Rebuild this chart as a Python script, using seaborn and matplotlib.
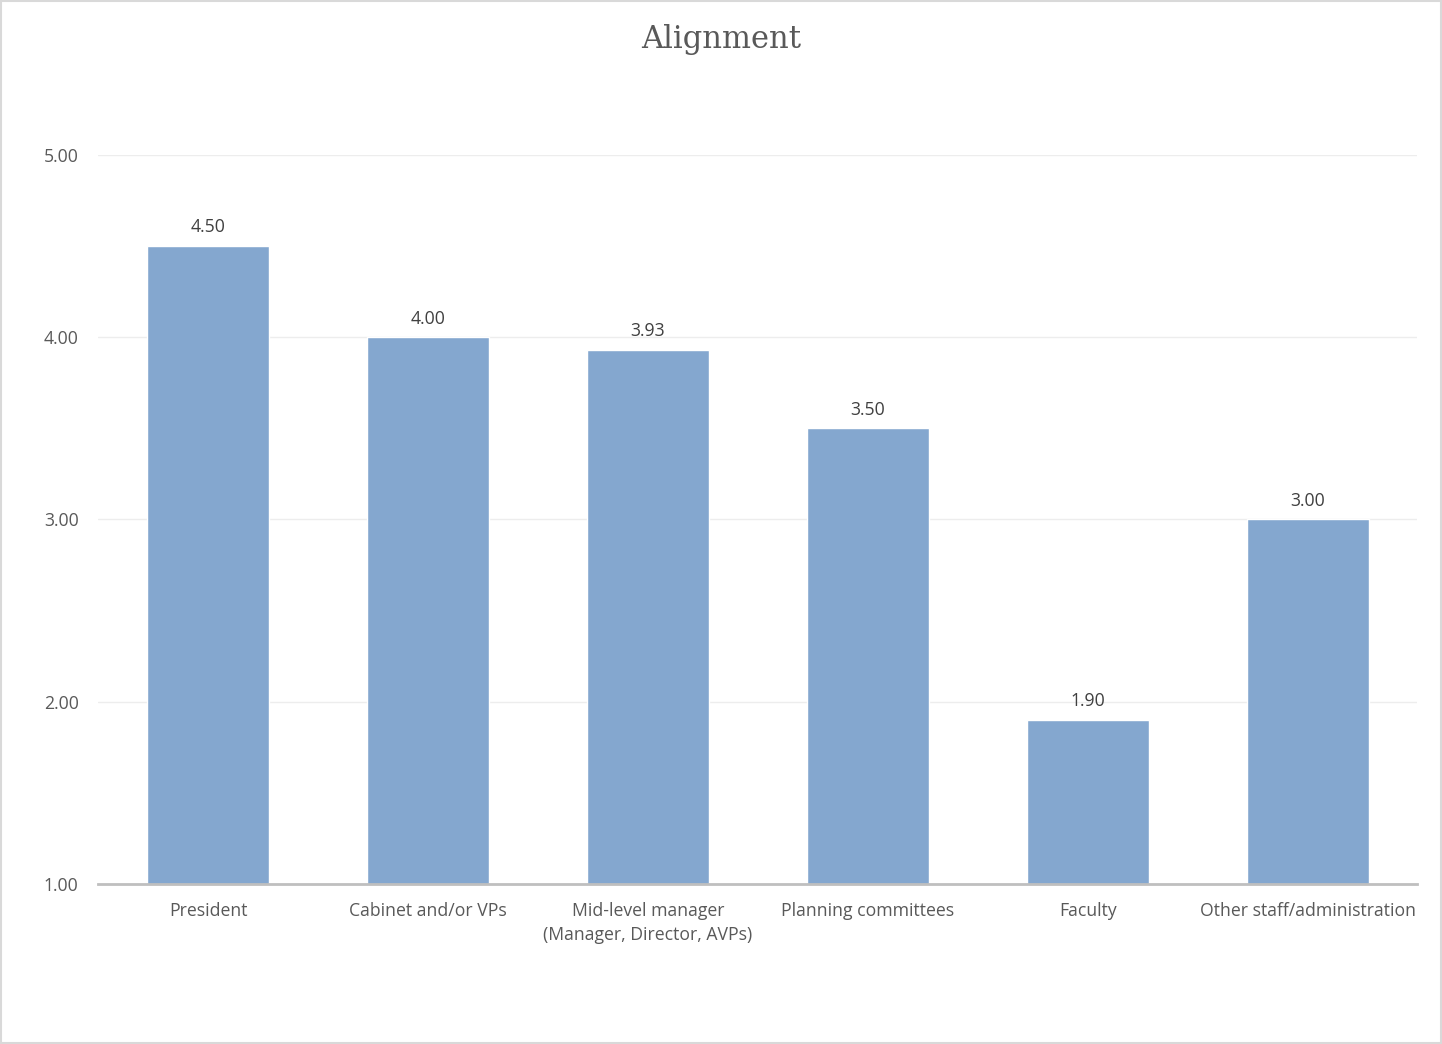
import matplotlib
matplotlib.use("Agg")
import matplotlib.pyplot as plt
import seaborn as sns
import pandas as pd
from matplotlib.patches import Rectangle

categories = ["President", "Cabinet and/or VPs", "Mid-level manager\n(Manager, Director, AVPs)",
              "Planning committees", "Faculty", "Other staff/administration"]
values = [4.50, 4.00, 3.93, 3.50, 1.90, 3.00]
yticks = [1.0, 2.0, 3.0, 4.0, 5.0]

sns.set_theme(style="white")
plt.rcParams['font.family'] = ['Open Sans', 'DejaVu Sans']

df = pd.DataFrame({"cat": categories, "val": values})
fig = plt.figure(figsize=(14.42, 10.44), dpi=100)
ax = fig.add_axes([0.068, 0.1533, 0.915, 0.6982])
sns.barplot(data=df, x="cat", y="val", color="#84A7CF", saturation=1, width=0.555, ax=ax, zorder=2)
ax.set_ylim(1, 5)
ax.set_xlim(-0.5, len(categories) - 0.5)
ax.set_yticks(yticks)
ax.set_yticklabels([f"{t:.2f}" for t in yticks], fontsize=12.7, color="#595959")
ax.tick_params(axis='x', labelsize=12.7, labelcolor="#595959", length=0, pad=13)
ax.tick_params(axis='y', length=0, pad=14)
for lbl in ax.get_xticklabels():
    lbl.set_linespacing(1.45)
ax.set_xlabel("")
ax.set_ylabel("")
ax.grid(axis='y', color="#EDEDED", linewidth=1, zorder=0)
for s in ["top", "right", "left"]:
    ax.spines[s].set_visible(False)
ax.spines["bottom"].set_color("#BFBFBF")
ax.spines["bottom"].set_linewidth(2)
ax.spines["bottom"].set_zorder(3)
for p, v in zip(ax.patches, values):
    ax.annotate(f"{v:.2f}", (p.get_x() + p.get_width() / 2, v), xytext=(0, 7),
                textcoords="offset points", ha="center", va="bottom", fontsize=12.7, color="#404040")
fig.text(0.5, 0.962, "Alignment", ha="center", va="center", fontsize=22,
         color="#595959", family=["DejaVu Serif"])
fig.patches.append(Rectangle((0.001, 0.001), 0.998, 0.998, transform=fig.transFigure,
                             fill=False, edgecolor="#D9D9D9", linewidth=1.5))
fig.savefig("out.png", dpi=100, facecolor="white")
